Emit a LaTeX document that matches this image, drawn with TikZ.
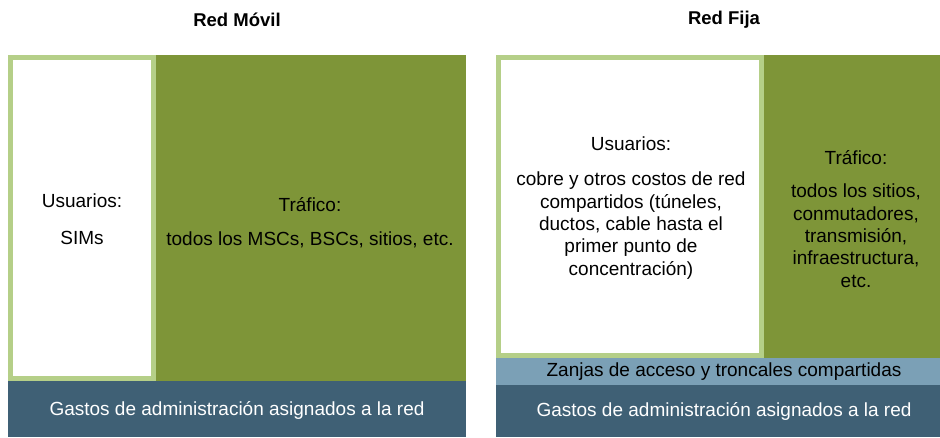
\documentclass[tikz,border=0pt]{standalone}
\usepackage{fontspec}
\setmainfont{Liberation Sans}
\usetikzlibrary{positioning}
\definecolor{olive}{HTML}{7E9538}
\definecolor{lightgreen}{HTML}{B5CF88}
\definecolor{darkblue}{HTML}{3F6075}
\definecolor{lightblue}{HTML}{7BA0B6}
\tikzset{
  txt/.style={align=center, font=\fontsize{19}{22.3}\selectfont, inner sep=0pt},
  title/.style={font=\fontsize{18.5}{20}\selectfont\bfseries, inner sep=0pt}
}
\begin{document}
\begin{tikzpicture}[x=1pt, y=-1pt]
  \useasboundingbox (0,0) rectangle (940,437);
  % titles
  \node[title] (movil) at (237,20) {Red Móvil};
  \node[title] (fija) at (724,20) {Red Fija};
  % Red Movil
  \fill[olive] (8,55) rectangle (466,381);
  \fill[lightgreen] (8,55) rectangle (156,381);
  \fill[white] (13,60) rectangle (151,376);
  \fill[darkblue] (8,381) rectangle (466,437);
  \node[txt] (musu) at (82,201) {Usuarios:};
  \node[txt] (msim) at (82,238) {SIMs};
  \node[txt] (mtra) at (310,205) {Tráfico:};
  \node[txt] (mtod) at (310,240) {todos los MSCs, BSCs, sitios, etc.};
  \node[txt, white] (mgas) at (237,410) {Gastos de administración asignados a la red};
  % Red Fija
  \fill[olive] (496,55) rectangle (940,358);
  \fill[lightgreen] (496,55) rectangle (764,358);
  \fill[white] (501,60) rectangle (759,353);
  \fill[lightblue] (496,358) rectangle (940,385);
  \fill[darkblue] (496,385) rectangle (940,437);
  \node[txt] (fusu) at (631,144) {Usuarios:};
  \node[txt, anchor=north] (fcob) at (631,172) {cobre y otros costos de red\\compartidos (túneles,\\ductos, cable hasta el\\primer punto de\\concentración)};
  \node[txt] (ftra) at (856,158) {Tráfico:};
  \node[txt, anchor=north] (ftod) at (856,184) {todos los sitios,\\conmutadores,\\transmisión,\\infraestructura,\\etc.};
  \node[txt] (fzan) at (724,372) {Zanjas de acceso y troncales compartidas};
  \node[txt, white] (fgas) at (724,411) {Gastos de administración asignados a la red};
\end{tikzpicture}
\end{document}
